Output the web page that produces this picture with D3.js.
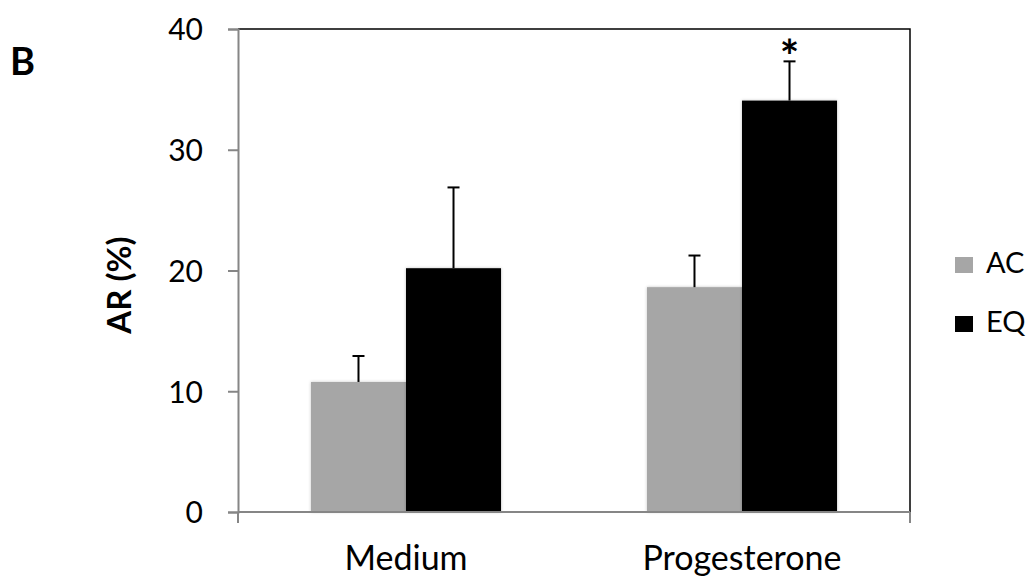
<!DOCTYPE html>
<html lang="en">
<head>
  <meta charset="utf-8">
  <title>AR chart</title>
  <script src="https://d3js.org/d3.v7.min.js"></script>
  <style>
    body { margin: 0; background: #fff; }
    text { font-family: Lato, "Open Sans", sans-serif; fill: #000; }
  </style>
</head>
<body>
  <script>
    var categories = ["Medium", "Progesterone"];
    var series = ["AC", "EQ"];
    var values = { AC: [10.77, 18.62], EQ: [20.19, 34.07] };
    var errors = { AC: [2.15, 2.62], EQ: [6.69, 3.25] };
    var yTicks = [0, 10, 20, 30, 40];
    var colors = { AC: "#a6a6a6", EQ: "#000000" };
    var stars = [{ cat: "Progesterone", s: "EQ" }];

    var w = 1035, h = 581;
    var pLeft = 238, pRight = 910, pTop = 29, pBottom = 512;

    var svg = d3.select("body").append("svg")
      .attr("width", w)
      .attr("height", h);

    var defs = svg.append("defs");
    defs.append("filter").attr("id", "shadow")
      .attr("x", "-10%").attr("y", "-10%").attr("width", "120%").attr("height", "120%")
      .append("feDropShadow")
      .attr("dx", 0).attr("dy", 0).attr("stdDeviation", 1.5)
      .attr("flood-color", "#000").attr("flood-opacity", 0.25);

    var x = d3.scaleBand().domain(categories).range([pLeft, pRight]);
    var xs = d3.scaleBand().domain(series).range([0, x.bandwidth()]).paddingOuter(0.768);
    var y = d3.scaleLinear().domain([0, 40]).range([pBottom, pTop]);

    // frame top + right
    svg.append("path")
      .attr("d", "M" + pLeft + "," + pTop + "H" + pRight + "V" + pBottom)
      .attr("fill", "none").attr("stroke", "#000").attr("stroke-width", 1.5);

    // bars
    var rows = [];
    categories.forEach(function(c, i) {
      series.forEach(function(s) {
        rows.push({ cat: c, s: s, v: values[s][i], e: errors[s][i] });
      });
    });

    svg.append("g").selectAll("rect").data(rows).enter().append("rect")
      .attr("x", function(d) { return x(d.cat) + xs(d.s); })
      .attr("y", function(d) { return y(d.v); })
      .attr("width", xs.bandwidth())
      .attr("height", function(d) { return y(0) - y(d.v); })
      .attr("fill", function(d) { return colors[d.s]; })
      .attr("filter", "url(#shadow)");

    // error bars
    var eb = svg.append("g").attr("stroke", "#000").attr("stroke-width", 2);
    rows.forEach(function(d) {
      var cx = x(d.cat) + xs(d.s) + xs.bandwidth() / 2;
      eb.append("line").attr("x1", cx).attr("x2", cx)
        .attr("y1", y(d.v)).attr("y2", y(d.v + d.e));
      eb.append("line").attr("x1", cx - 6).attr("x2", cx + 6)
        .attr("y1", y(d.v + d.e)).attr("y2", y(d.v + d.e));
    });

    // significance
    stars.forEach(function(st) {
      var i = categories.indexOf(st.cat);
      var cx = x(st.cat) + xs(st.s) + xs.bandwidth() / 2;
      svg.append("text")
        .attr("x", cx)
        .attr("y", y(values[st.s][i] + errors[st.s][i]) + 12)
        .attr("text-anchor", "middle")
        .style("font-size", "46px")
        .style("font-weight", "bold")
        .text("*");
    });

    // y axis
    var yAxis = d3.axisLeft(y).tickValues(yTicks).tickSize(10).tickPadding(25);
    var ya = svg.append("g").attr("transform", "translate(" + pLeft + ",0)").call(yAxis);
    ya.select(".domain").attr("stroke", "#868686").attr("stroke-width", 2);
    ya.selectAll(".tick line").attr("stroke", "#868686").attr("stroke-width", 2);
    ya.selectAll(".tick text").style("font-size", "30px").style("fill", "#000")
      .style("font-family", "Lato, sans-serif").attr("dy", "0.36em");

    // x axis
    svg.append("line").attr("x1", pLeft).attr("x2", pRight)
      .attr("y1", pBottom).attr("y2", pBottom)
      .attr("stroke", "#868686").attr("stroke-width", 2);
    svg.selectAll(".xtick").data([pLeft, pRight]).enter().append("line")
      .attr("x1", function(d) { return d; }).attr("x2", function(d) { return d; })
      .attr("y1", pBottom).attr("y2", pBottom + 11)
      .attr("stroke", "#868686").attr("stroke-width", 2);
    svg.selectAll(".xlab").data(categories).enter().append("text")
      .attr("x", function(d) { return x(d) + x.bandwidth() / 2; })
      .attr("y", 570)
      .attr("text-anchor", "middle")
      .style("font-size", "34px")
      .text(function(d) { return d; });

    // y title
    svg.append("text")
      .attr("transform", "translate(131,285) rotate(-90)")
      .attr("text-anchor", "middle")
      .style("font-size", "33px")
      .style("font-weight", "bold")
      .text("AR (%)");

    // panel letter
    svg.append("text")
      .attr("x", 10).attr("y", 75)
      .style("font-size", "38px")
      .style("font-weight", "bold")
      .text("B");

    // legend
    var lg = svg.selectAll(".leg").data(series).enter().append("g")
      .attr("transform", function(d, i) { return "translate(955," + (257 + i * 59) + ")"; });
    lg.append("rect").attr("width", 18).attr("height", 16)
      .attr("fill", function(d) { return colors[d]; });
    lg.append("text").attr("x", 31).attr("y", 16)
      .style("font-size", "29px")
      .text(function(d) { return d; });
  </script>
</body>
</html>
